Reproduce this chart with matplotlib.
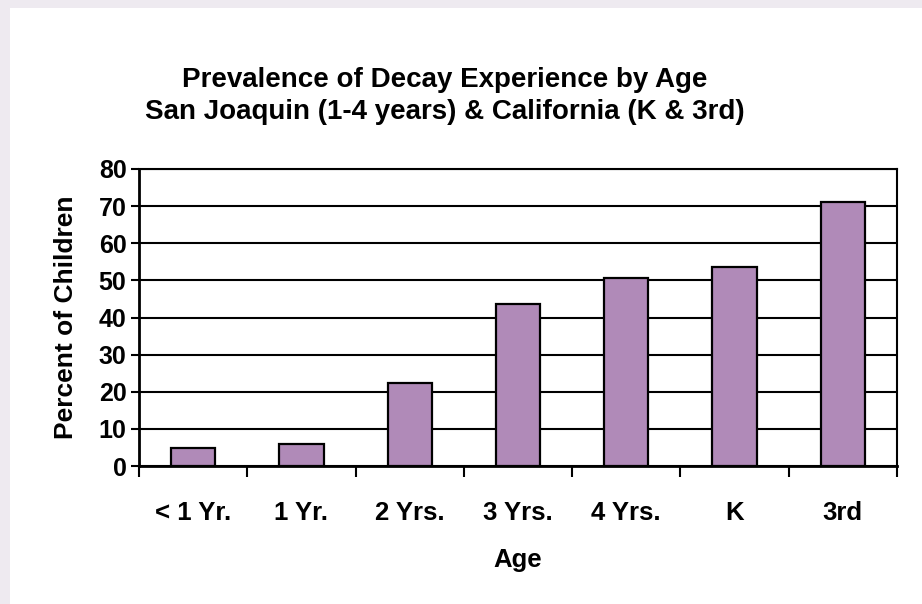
import matplotlib.pyplot as plt
from matplotlib.patches import Rectangle

# data
ages = ['< 1 Yr.', '1 Yr.', '2 Yrs.', '3 Yrs.', '4 Yrs.', 'K', '3rd']
percent = [4.8, 5.9, 22.4, 43.6, 50.7, 53.7, 71.0]
yticks = [0, 10, 20, 30, 40, 50, 60, 70, 80]

plt.rcParams['font.family'] = ['Liberation Sans', 'DejaVu Sans']
plt.rcParams['font.weight'] = 'bold'

fig = plt.figure(figsize=(9.22, 6.04), dpi=100, facecolor='#eeeaf0')
# white panel behind everything
fig.patches.append(Rectangle((10 / 922, 0), 1, (604 - 8) / 604,
                             transform=fig.transFigure, facecolor='white',
                             edgecolor='none', zorder=-10))

ax = fig.add_axes([139 / 922, 1 - 466 / 604, (897 - 139) / 922, (466 - 169) / 604])
ax.set_facecolor('white')

x = range(len(ages))
ax.bar(x, percent, width=0.41, color='#b08ab8', edgecolor='black', linewidth=1.6, zorder=3)

ax.set_xlim(-0.5, len(ages) - 0.5)
ax.set_ylim(0, 80)
ax.set_yticks(yticks)
ax.yaxis.grid(True, color='black', linewidth=1.5, zorder=1)
ax.set_axisbelow(True)

ax.set_xticks(x)
ax.set_xticklabels(ages, fontsize=18.5, fontweight='bold')
ax.tick_params(axis='x', length=0, pad=25)
# tick marks sit between the categories
ax.set_xticks([i + 0.5 for i in range(-1, len(ages))], minor=True)
ax.tick_params(axis='x', which='minor', length=8, width=1.5, direction='out')
ax.tick_params(axis='y', length=6, width=1.5, labelsize=18, pad=3)
for lab in ax.get_yticklabels():
    lab.set_fontweight('bold')

for side in ['left', 'bottom', 'right', 'top']:
    ax.spines[side].set_linewidth(2)
    ax.spines[side].set_color('black')
ax.spines['right'].set_linewidth(1.5)
ax.spines['top'].set_linewidth(1.5)

ax.set_xlabel('Age', fontsize=18.5, fontweight='bold')
ax.xaxis.set_label_coords(0.5, (466 - 560) / 297)
ax.xaxis.label.set_va('center')
ax.set_ylabel('Percent of Children', fontsize=19, fontweight='bold')
ax.yaxis.set_label_coords((66 - 139) / 758, 0.5)
ax.yaxis.label.set_va('center')

fig.text(445 / 922, 1 - 80 / 604, 'Prevalence of Decay Experience by Age',
         ha='center', va='center', fontsize=20, fontweight='bold')
fig.text(445 / 922, 1 - 112 / 604, 'San Joaquin (1-4 years) & California (K & 3rd)',
         ha='center', va='center', fontsize=20, fontweight='bold')

fig.savefig('out.png', dpi=100, facecolor=fig.get_facecolor())
